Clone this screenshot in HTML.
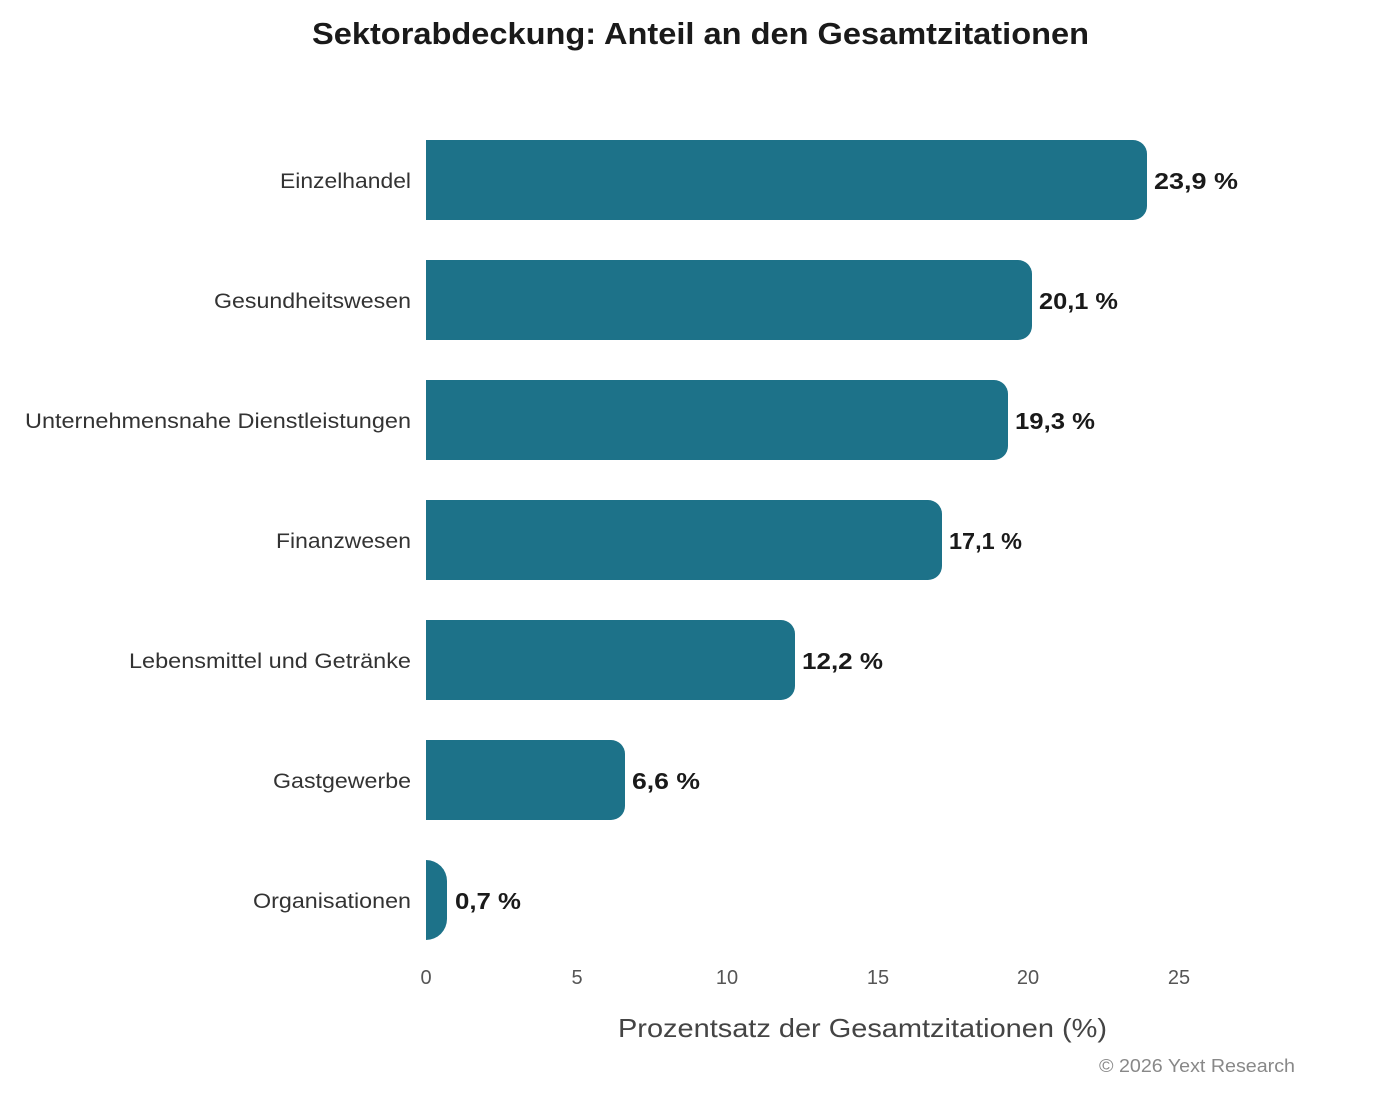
<!DOCTYPE html>
<html><head><meta charset="utf-8"><style>
html,body{margin:0;padding:0;background:#fff;width:1400px;height:1100px;overflow:hidden}
svg{display:block;font-family:"Liberation Sans",sans-serif}
</style></head><body>
<svg width="1400" height="1100" viewBox="0 0 1400 1100" xmlns="http://www.w3.org/2000/svg">
<rect width="1400" height="1100" fill="#fff"/>
<text x="312" y="44" font-size="31" font-weight="bold" fill="#1a1a1a" textLength="777" lengthAdjust="spacingAndGlyphs">Sektorabdeckung: Anteil an den Gesamtzitationen</text>
<g fill="#1d7289">
<path d="M426 140 H1133 A14 14 0 0 1 1147 154 V206 A14 14 0 0 1 1133 220 H426 Z"/>
<path d="M426 260 H1018 A14 14 0 0 1 1032 274 V326 A14 14 0 0 1 1018 340 H426 Z"/>
<path d="M426 380 H994 A14 14 0 0 1 1008 394 V446 A14 14 0 0 1 994 460 H426 Z"/>
<path d="M426 500 H928 A14 14 0 0 1 942 514 V566 A14 14 0 0 1 928 580 H426 Z"/>
<path d="M426 620 H781 A14 14 0 0 1 795 634 V686 A14 14 0 0 1 781 700 H426 Z"/>
<path d="M426 740 H611 A14 14 0 0 1 625 754 V806 A14 14 0 0 1 611 820 H426 Z"/>
<path d="M426 860 A21 21 0 0 1 447 881 V919 A21 21 0 0 1 426 940 Z"/>
</g>
<g font-size="21" fill="#333" lengthAdjust="spacingAndGlyphs">
<text x="280" y="188" textLength="131" lengthAdjust="spacingAndGlyphs">Einzelhandel</text>
<text x="214" y="308" textLength="197" lengthAdjust="spacingAndGlyphs">Gesundheitswesen</text>
<text x="25" y="428" textLength="386" lengthAdjust="spacingAndGlyphs">Unternehmensnahe Dienstleistungen</text>
<text x="276" y="548" textLength="135" lengthAdjust="spacingAndGlyphs">Finanzwesen</text>
<text x="129" y="668" textLength="282" lengthAdjust="spacingAndGlyphs">Lebensmittel und Getränke</text>
<text x="273" y="788" textLength="138" lengthAdjust="spacingAndGlyphs">Gastgewerbe</text>
<text x="253" y="908" textLength="158" lengthAdjust="spacingAndGlyphs">Organisationen</text>
</g>
<g font-size="23" font-weight="bold" fill="#1a1a1a">
<text x="1154" y="189" textLength="84" lengthAdjust="spacingAndGlyphs">23,9 %</text>
<text x="1039" y="309" textLength="79" lengthAdjust="spacingAndGlyphs">20,1 %</text>
<text x="1015" y="429" textLength="80" lengthAdjust="spacingAndGlyphs">19,3 %</text>
<text x="949" y="549" textLength="73" lengthAdjust="spacingAndGlyphs">17,1 %</text>
<text x="802" y="669" textLength="81" lengthAdjust="spacingAndGlyphs">12,2 %</text>
<text x="632" y="789" textLength="68" lengthAdjust="spacingAndGlyphs">6,6 %</text>
<text x="455" y="909" textLength="66" lengthAdjust="spacingAndGlyphs">0,7 %</text>
</g>
<g font-size="20" fill="#555" text-anchor="middle">
<text x="426" y="984">0</text>
<text x="577" y="984">5</text>
<text x="727" y="984">10</text>
<text x="878" y="984">15</text>
<text x="1028" y="984">20</text>
<text x="1179" y="984">25</text>
</g>
<text x="618" y="1037" font-size="26" fill="#444" textLength="489" lengthAdjust="spacingAndGlyphs">Prozentsatz der Gesamtzitationen (%)</text>
<text x="1099" y="1072" font-size="18" fill="#888" textLength="196" lengthAdjust="spacingAndGlyphs">© 2026 Yext Research</text>
</svg>
</body></html>
